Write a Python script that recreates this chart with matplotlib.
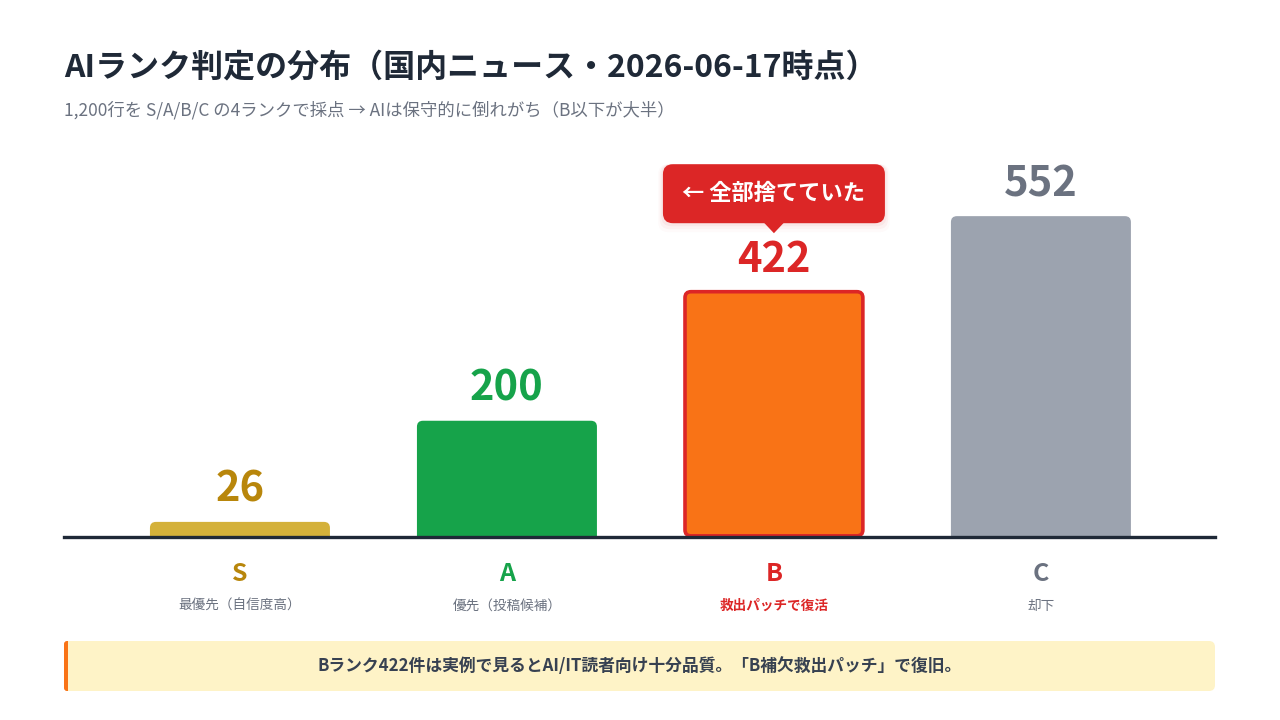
import matplotlib.pyplot as plt
from matplotlib.patches import FancyBboxPatch, Polygon

plt.rcParams['font.family'] = ['Noto Sans CJK JP', 'DejaVu Sans']

ranks = ["S", "A", "B", "C"]
counts = [26, 200, 422, 552]
sub_labels = ["最優先（自信度高）", "優先（投稿候補）", "救出パッチで復活", "却下"]
bar_colors = ["#D4B13A", "#16A34A", "#F97316", "#9CA3AF"]
text_colors = ["#B8860B", "#16A34A", "#DC2626", "#6B7280"]
sub_colors = ["#6B7280", "#6B7280", "#DC2626", "#6B7280"]

title = "AIランク判定の分布（国内ニュース・2026-06-17時点）"
subtitle = "1,200行を S/A/B/C の4ランクで採点 → AIは保守的に倒れがち（B以下が大半）"
callout = "← 全部捨てていた"
note = "Bランク422件は実例で見るとAI/IT読者向け十分品質。「B補欠救出パッチ」で復旧。"

fig = plt.figure(figsize=(12.8, 7.2), dpi=100)
fig.patch.set_facecolor("white")

# axes in figure px: x 64..1215, y 140..537
ax = fig.add_axes([64 / 1280, 183 / 720, 1151 / 1280, 397 / 720])
ax.set_xlim(-0.659, 3.652)
ax.set_ylim(0, 683)
ax.axis("off")

x = list(range(len(ranks)))
bars = ax.bar(x, counts, width=180 / 267, color=bar_colors)

# swap plain bars for rounded ones
px = 683 / 397
rx = 6 / 267
ry = 6 * px
for i, b in enumerate(bars):
    b.set_visible(False)
    x0, w, h = b.get_x(), b.get_width(), b.get_height()
    if i == 2:
        patch = FancyBboxPatch((x0 + 0.004, 2), w - 0.008, h - 2,
                               boxstyle=f"round,pad=0,rounding_size={rx}",
                               mutation_aspect=ry / rx,
                               facecolor=bar_colors[i], edgecolor="#DC2626",
                               linewidth=2.6, zorder=2)
    else:
        patch = FancyBboxPatch((x0, -ry), w, h + ry,
                               boxstyle=f"round,pad=0,rounding_size={rx}",
                               mutation_aspect=ry / rx,
                               facecolor=bar_colors[i], edgecolor="none", zorder=2)
    ax.add_patch(patch)
    ax.text(i, h + 32 * px, str(counts[i]), ha="center", va="center",
            fontsize=30, fontweight="bold", color=text_colors[i])

# baseline
ax.axhline(0, color="#1F2937", linewidth=2.4, zorder=3, clip_on=False)

# callout above B
cx, cy = 2, counts[2] + 35 * px + 63 * px
box_w, box_h = 222 / 267, 59 * px
for k, a in enumerate([0.06, 0.04, 0.02]):
    ax.add_patch(FancyBboxPatch((cx - box_w / 2 - 0.006 * (k + 1), cy - box_h / 2 - 3 * px * (k + 1)),
                                box_w + 0.012 * (k + 1), box_h + 3 * px * (k + 1),
                                boxstyle=f"round,pad=0,rounding_size={10 / 267}",
                                mutation_aspect=px * 267, facecolor="#DC2626",
                                edgecolor="none", alpha=a, zorder=4, clip_on=False))
ax.add_patch(FancyBboxPatch((cx - box_w / 2, cy - box_h / 2), box_w, box_h,
                            boxstyle=f"round,pad=0,rounding_size={10 / 267}",
                            mutation_aspect=px * 267, facecolor="#DC2626",
                            edgecolor="none", zorder=5, clip_on=False))
ax.add_patch(Polygon([(cx - 10 / 267, cy - box_h / 2 + 1), (cx + 10 / 267, cy - box_h / 2 + 1),
                      (cx, cy - box_h / 2 - 10 * px)], closed=True,
                     facecolor="#DC2626", edgecolor="none", zorder=5, clip_on=False))
ax.text(cx, cy, callout, ha="center", va="center", fontsize=16,
        fontweight="bold", color="white", zorder=6)

# category labels under the axis
for i in range(len(ranks)):
    ax.text(i, -37 * px, ranks[i], ha="center", va="center", fontsize=18,
            fontweight="bold", color=text_colors[i], clip_on=False)
    ax.text(i, -69 * px, sub_labels[i], ha="center", va="center", fontsize=9.8,
            fontweight="bold" if i == 2 else "normal", color=sub_colors[i], clip_on=False)

# title + subtitle
fig.text(64 / 1280, 1 - 68 / 720, title, ha="left", va="center", fontsize=23,
         fontweight="bold", color="#1F2937")
fig.text(64 / 1280, 1 - 110 / 720, subtitle, ha="left", va="center", fontsize=12.5,
         color="#6B7280")

# note box
nax = fig.add_axes([0, 0, 1, 1], zorder=-1)
nax.set_xlim(0, 1280)
nax.set_ylim(720, 0)
nax.axis("off")
nax.add_patch(FancyBboxPatch((64, 641), 1151, 50, boxstyle="round,pad=0,rounding_size=6",
                             facecolor="#FEF3C7", edgecolor="none"))
nax.add_patch(FancyBboxPatch((64, 641), 8, 50, boxstyle="round,pad=0,rounding_size=3",
                             facecolor="#F97316", edgecolor="none"))
nax.add_patch(plt.Rectangle((68, 641), 6, 50, facecolor="#FEF3C7", edgecolor="none"))
nax.text(640, 666, note, ha="center", va="center", fontsize=12.1,
         fontweight="bold", color="#374151")

fig.savefig("out.png", dpi=100, facecolor="white")
